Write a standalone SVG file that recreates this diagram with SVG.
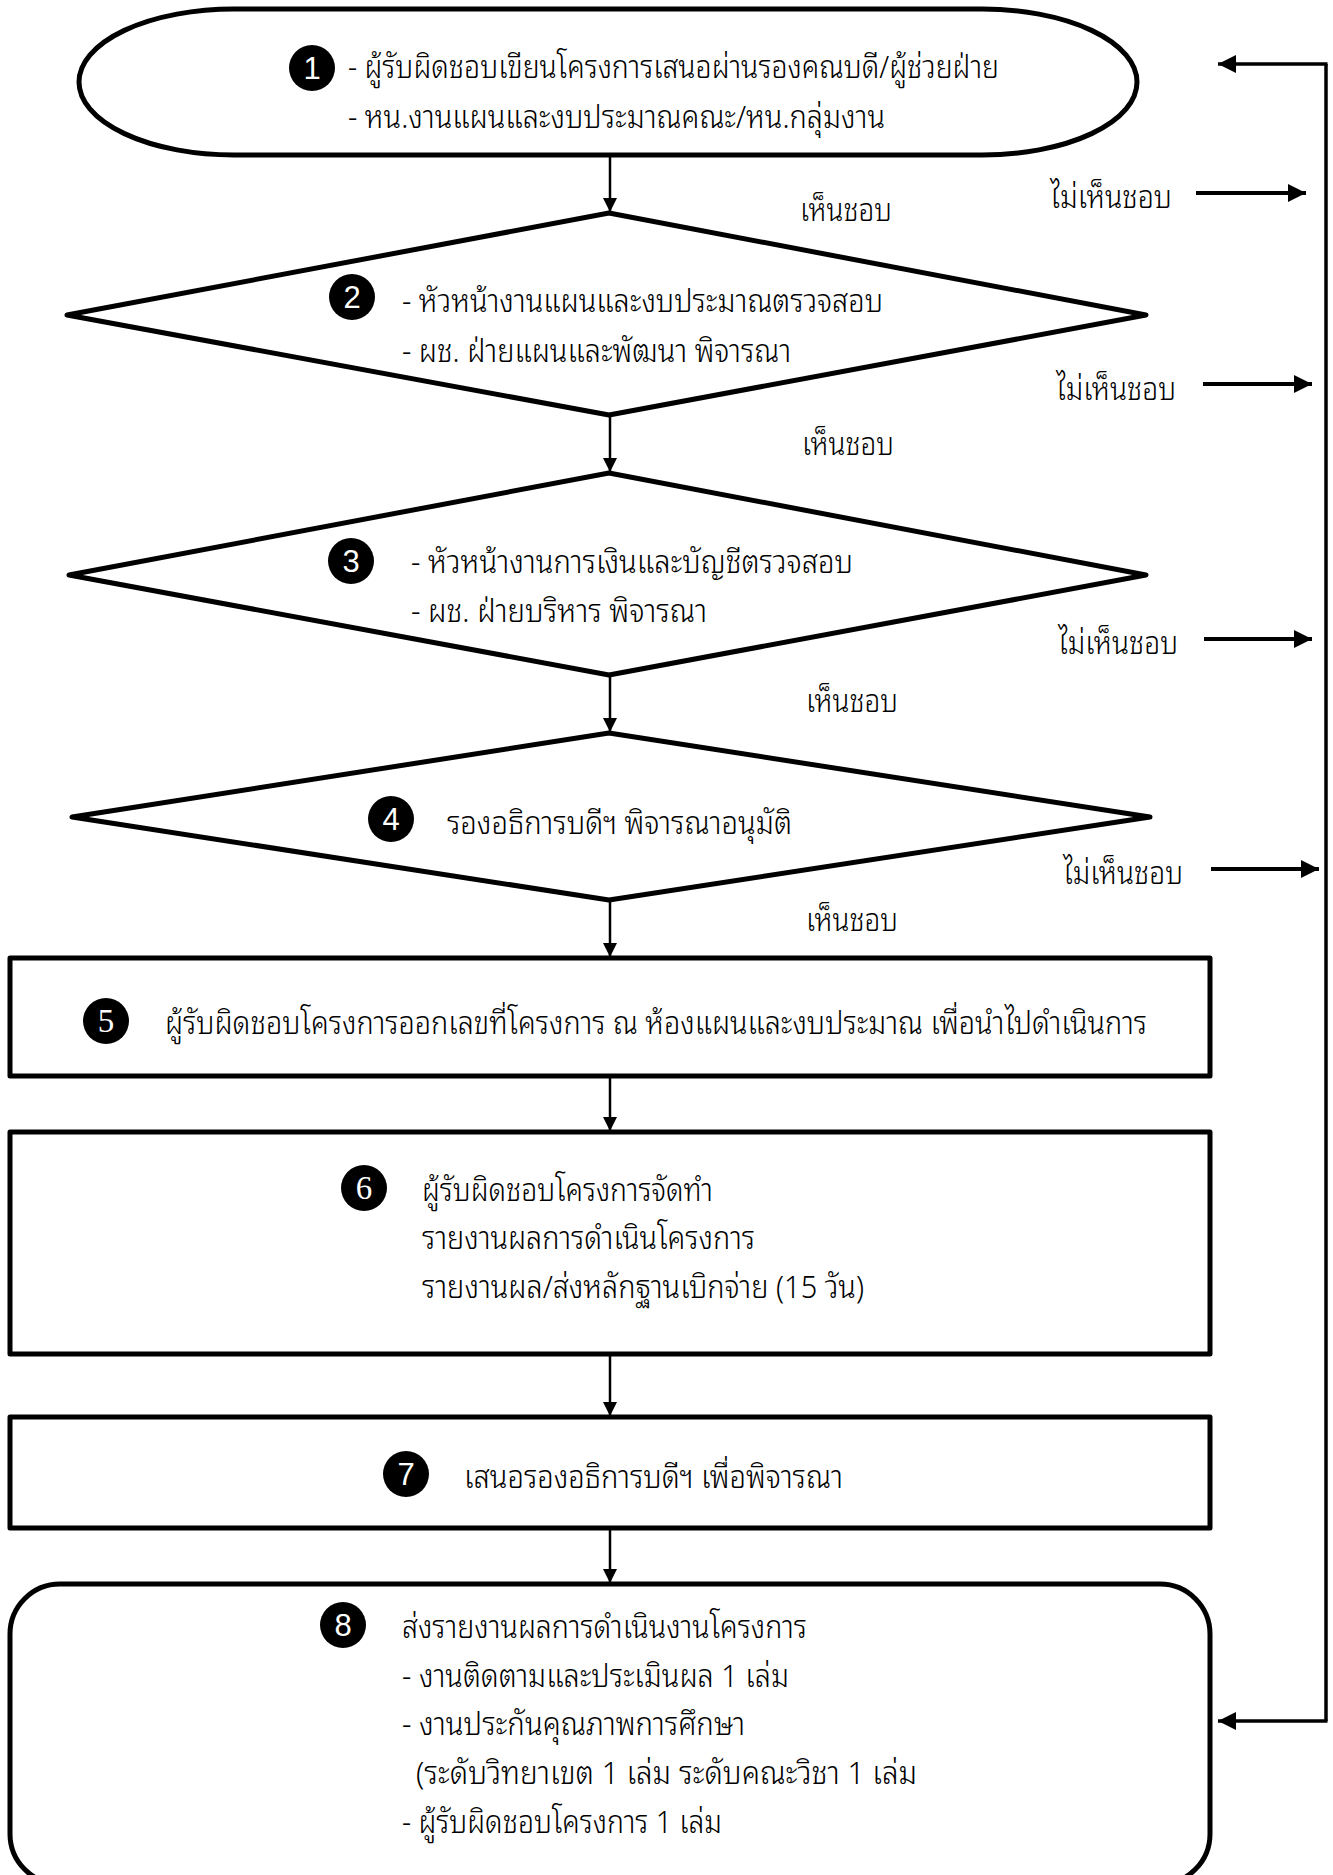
<svg xmlns="http://www.w3.org/2000/svg" width="1333" height="1875" viewBox="0 0 1333 1875">
<defs>
<marker id="ah" markerUnits="userSpaceOnUse" markerWidth="14" markerHeight="16" refX="14" refY="7" orient="auto">
<path d="M0,0 L14,7 L0,14 Z" fill="#000"/>
</marker>
<marker id="ahb" markerUnits="userSpaceOnUse" markerWidth="20" markerHeight="20" refX="18" refY="9" orient="auto">
<path d="M0,0 L18,9 L0,18 Z" fill="#000"/>
</marker>
</defs>
<style>
.shape{fill:#fff;stroke:#000;stroke-width:5;stroke-linejoin:round}
.t{font-family:"Noto Sans Thai Looped","Noto Serif Thai","Loma","Garuda","Kinnari","Norasi","Noto Sans Thai","DejaVu Sans",sans-serif;font-size:31px;font-weight:300;fill:#000}
.badge{fill:#000}
.num{font-family:"Liberation Sans",Arial,sans-serif;font-size:31px;fill:#fff;text-anchor:middle}
.nums{font-family:"Liberation Serif","Times New Roman",serif;font-size:33px;fill:#fff;text-anchor:middle}
.down{stroke:#000;stroke-width:2.5;fill:none}
.side{stroke:#000;stroke-width:4;fill:none}
.ret{stroke:#000;stroke-width:3.5;fill:none}
</style>
<rect width="1333" height="1875" fill="#fff"/>

<g id="connectors">
<line class="down" x1="610" y1="157" x2="610" y2="212" marker-end="url(#ah)"/>
<line class="down" x1="610" y1="417" x2="610" y2="472" marker-end="url(#ah)"/>
<line class="down" x1="610" y1="677" x2="610" y2="732" marker-end="url(#ah)"/>
<line class="down" x1="610" y1="902" x2="610" y2="957" marker-end="url(#ah)"/>
<line class="down" x1="610" y1="1078" x2="610" y2="1131" marker-end="url(#ah)"/>
<line class="down" x1="610" y1="1356" x2="610" y2="1416" marker-end="url(#ah)"/>
<line class="down" x1="610" y1="1530" x2="610" y2="1583" marker-end="url(#ah)"/>
<line class="side" x1="1196" y1="193" x2="1306" y2="193" marker-end="url(#ahb)"/>
<line class="side" x1="1203" y1="384" x2="1312" y2="384" marker-end="url(#ahb)"/>
<line class="side" x1="1204" y1="639" x2="1312" y2="639" marker-end="url(#ahb)"/>
<line class="side" x1="1211" y1="869" x2="1319" y2="869" marker-end="url(#ahb)"/>
<line class="ret" x1="1326" y1="64" x2="1326" y2="1721"/>
<line class="ret" x1="1327.5" y1="64" x2="1218" y2="64" marker-end="url(#ahb)"/>
<line class="ret" x1="1327.5" y1="1721" x2="1218" y2="1721" marker-end="url(#ahb)"/>
<text class="t" x="800" y="221" textLength="92" lengthAdjust="spacingAndGlyphs">เห็นชอบ</text>
<text class="t" x="1050" y="208" textLength="122" lengthAdjust="spacingAndGlyphs">ไม่เห็นชอบ</text>
<text class="t" x="1056" y="400" textLength="120" lengthAdjust="spacingAndGlyphs">ไม่เห็นชอบ</text>
<text class="t" x="802" y="455" textLength="92" lengthAdjust="spacingAndGlyphs">เห็นชอบ</text>
<text class="t" x="1058" y="654" textLength="120" lengthAdjust="spacingAndGlyphs">ไม่เห็นชอบ</text>
<text class="t" x="806" y="712" textLength="92" lengthAdjust="spacingAndGlyphs">เห็นชอบ</text>
<text class="t" x="1063" y="884" textLength="120" lengthAdjust="spacingAndGlyphs">ไม่เห็นชอบ</text>
<text class="t" x="806" y="931" textLength="92" lengthAdjust="spacingAndGlyphs">เห็นชอบ</text>
</g>

<g id="node1">
<rect class="shape" x="79" y="9" width="1058" height="146" rx="155" ry="73"/>
<circle class="badge" cx="312" cy="68" r="23"/>
<text class="num" x="312" y="79">1</text>
<text class="t" x="348" y="78" textLength="651" lengthAdjust="spacingAndGlyphs">- ผู้รับผิดชอบเขียนโครงการเสนอผ่านรองคณบดี/ผู้ช่วยฝ่าย</text>
<text class="t" x="348" y="128" textLength="537" lengthAdjust="spacingAndGlyphs">- หน.งานแผนและงบประมาณคณะ/หน.กลุ่มงาน</text>
</g>

<g id="node2">
<polygon class="shape" points="609,213 1146,315 609,415 67,315"/>
<circle class="badge" cx="352" cy="297" r="23"/>
<text class="num" x="352" y="308">2</text>
<text class="t" x="402" y="312" textLength="481" lengthAdjust="spacingAndGlyphs">- หัวหน้างานแผนและงบประมาณตรวจสอบ</text>
<text class="t" x="402" y="362" textLength="389" lengthAdjust="spacingAndGlyphs">- ผช. ฝ่ายแผนและพัฒนา พิจารณา</text>
</g>

<g id="node3">
<polygon class="shape" points="609,473 1146,575 609,675 69,575"/>
<circle class="badge" cx="351" cy="561" r="23"/>
<text class="num" x="351" y="572">3</text>
<text class="t" x="411" y="573" textLength="442" lengthAdjust="spacingAndGlyphs">- หัวหน้างานการเงินและบัญชีตรวจสอบ</text>
<text class="t" x="411" y="622" textLength="296" lengthAdjust="spacingAndGlyphs">- ผช. ฝ่ายบริหาร พิจารณา</text>
</g>

<g id="node4">
<polygon class="shape" points="609,733 1150,817 609,900 72,817"/>
<circle class="badge" cx="391" cy="819" r="23"/>
<text class="num" x="391" y="830">4</text>
<text class="t" x="447" y="834" textLength="345" lengthAdjust="spacingAndGlyphs">รองอธิการบดีฯ พิจารณาอนุมัติ</text>
</g>

<g id="node5">
<rect class="shape" x="10" y="958" width="1200" height="118"/>
<circle class="badge" cx="106" cy="1021" r="23"/>
<text class="nums" x="106" y="1032">5</text>
<text class="t" x="165" y="1034" textLength="982" lengthAdjust="spacingAndGlyphs">ผู้รับผิดชอบโครงการออกเลขที่โครงการ ณ ห้องแผนและงบประมาณ เพื่อนำไปดำเนินการ</text>
</g>

<g id="node6">
<rect class="shape" x="10" y="1132" width="1200" height="222"/>
<circle class="badge" cx="364" cy="1188" r="23"/>
<text class="nums" x="364" y="1199">6</text>
<text class="t" x="422" y="1201" textLength="291" lengthAdjust="spacingAndGlyphs">ผู้รับผิดชอบโครงการจัดทำ</text>
<text class="t" x="422" y="1249" textLength="333" lengthAdjust="spacingAndGlyphs">รายงานผลการดำเนินโครงการ</text>
<text class="t" x="422" y="1298" textLength="442" lengthAdjust="spacingAndGlyphs">รายงานผล/ส่งหลักฐานเบิกจ่าย (15 วัน)</text>
</g>

<g id="node7">
<rect class="shape" x="10" y="1417" width="1200" height="111"/>
<circle class="badge" cx="406" cy="1474" r="23"/>
<text class="num" x="406" y="1485">7</text>
<text class="t" x="464" y="1488" textLength="379" lengthAdjust="spacingAndGlyphs">เสนอรองอธิการบดีฯ เพื่อพิจารณา</text>
</g>

<g id="node8">
<rect class="shape" x="10" y="1584" width="1200" height="300" rx="50" ry="50"/>
<circle class="badge" cx="343" cy="1625" r="23"/>
<text class="num" x="343" y="1636">8</text>
<text class="t" x="402" y="1638" textLength="405" lengthAdjust="spacingAndGlyphs">ส่งรายงานผลการดำเนินงานโครงการ</text>
<text class="t" x="402" y="1687" textLength="387" lengthAdjust="spacingAndGlyphs">- งานติดตามและประเมินผล 1 เล่ม</text>
<text class="t" x="402" y="1735" textLength="343" lengthAdjust="spacingAndGlyphs">- งานประกันคุณภาพการศึกษา</text>
<text class="t" x="416" y="1784" textLength="501" lengthAdjust="spacingAndGlyphs">(ระดับวิทยาเขต 1 เล่ม ระดับคณะวิชา 1 เล่ม</text>
<text class="t" x="402" y="1833" textLength="320" lengthAdjust="spacingAndGlyphs">- ผู้รับผิดชอบโครงการ 1 เล่ม</text>
</g>
</svg>
